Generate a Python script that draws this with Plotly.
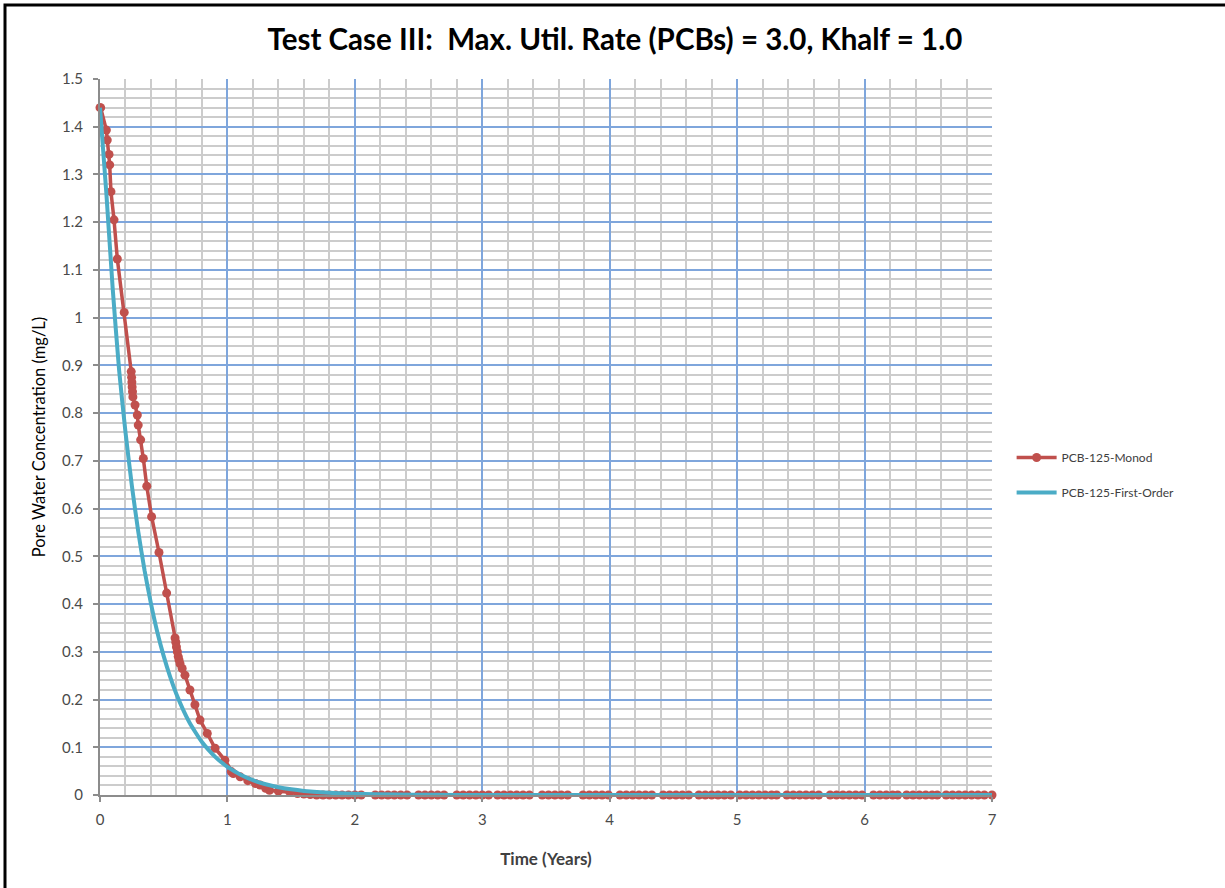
import plotly.graph_objects as go

# ---------------- data ----------------
monod_t = [0.0, 0.005, 0.05, 0.057, 0.071, 0.076, 0.086, 0.11, 0.136, 0.19,
           0.245, 0.248, 0.25, 0.252, 0.255, 0.258, 0.275, 0.293, 0.30, 0.319,
           0.34, 0.367, 0.405, 0.463, 0.523, 0.589, 0.595, 0.60, 0.607, 0.614,
           0.62, 0.628, 0.645, 0.667, 0.706, 0.745, 0.785, 0.842, 0.903, 0.98,
           1.03, 1.046, 1.1, 1.16, 1.22, 1.256, 1.3, 1.33, 1.4, 1.49, 1.55, 1.6, 1.65,
           1.70, 1.75, 1.80, 1.85, 1.90, 1.95, 2.00, 2.05,
           2.16, 2.21, 2.26, 2.31, 2.36, 2.41,
           2.50, 2.55, 2.60, 2.65, 2.70,
           2.80, 2.85, 2.90, 2.95, 3.00, 3.05,
           3.12, 3.17, 3.22, 3.27, 3.32, 3.37,
           3.47, 3.52, 3.57, 3.62, 3.67,
           3.79, 3.84, 3.89, 3.94, 3.99,
           4.08, 4.13, 4.18, 4.23, 4.28, 4.33,
           4.42, 4.47, 4.52, 4.57, 4.62,
           4.70, 4.75, 4.80, 4.85, 4.90, 4.95,
           5.02, 5.07, 5.12, 5.17, 5.22, 5.27, 5.31,
           5.39, 5.44, 5.49, 5.54, 5.59, 5.64,
           5.73, 5.78, 5.83, 5.88, 5.93, 5.98,
           6.07, 6.12, 6.17, 6.22, 6.26,
           6.33, 6.38, 6.43, 6.48, 6.53, 6.57,
           6.64, 6.69, 6.74, 6.79, 6.84, 6.89, 6.94, 7.00]
monod_head_c = [1.44, 1.44, 1.393, 1.372, 1.342, 1.32, 1.264, 1.205, 1.123, 1.011,
                0.887, 0.875, 0.865, 0.855, 0.845, 0.834, 0.817, 0.796, 0.775, 0.744,
                0.705, 0.647, 0.583, 0.508, 0.423, 0.329, 0.32, 0.31, 0.30, 0.29,
                0.283, 0.275, 0.265, 0.251, 0.22, 0.189, 0.157, 0.129, 0.098, 0.073,
                0.049, 0.045, 0.038, 0.03, 0.024, 0.021, 0.014, 0.01, 0.008, 0.006, 0.003, 0.002, 0.001]
monod_c = monod_head_c + [0.0] * (len(monod_t) - len(monod_head_c))

first_t = [0.0, 0.05, 0.1, 0.15, 0.2, 0.25, 0.3, 0.35, 0.4, 0.45,
           0.5, 0.55, 0.6, 0.65, 0.7, 0.75, 0.8, 0.85, 0.9, 0.95,
           1.0, 1.1, 1.2, 1.3, 1.4, 1.5, 1.6, 1.8, 2.0, 2.3,
           2.6, 3.0, 4.0, 5.0, 6.0, 7.0]
first_c = [1.44, 1.26, 1.06, 0.89, 0.76, 0.648, 0.552, 0.470, 0.401, 0.341,
           0.291, 0.248, 0.211, 0.180, 0.153, 0.131, 0.111, 0.095, 0.081, 0.069,
           0.059, 0.043, 0.031, 0.0225, 0.0163, 0.0119, 0.0086, 0.0045, 0.0024, 0.0009,
           0.0003, 0.0001, 0.0, 0.0, 0.0, 0.0]

x_ticks = [0, 1, 2, 3, 4, 5, 6, 7]
y_ticks = [0, 0.1, 0.2, 0.3, 0.4, 0.5, 0.6, 0.7, 0.8, 0.9, 1.0, 1.1, 1.2, 1.3, 1.4, 1.5]
y_labels = ["0", "0.1", "0.2", "0.3", "0.4", "0.5", "0.6", "0.7", "0.8", "0.9",
            "1", "1.1", "1.2", "1.3", "1.4", "1.5"]

RED = "#C0504D"
CYAN = "#4BACC6"
FONT = "Lato"

# minor grid positions (layout only)
x_minor = [i / 5 for i in range(0, 36) if i % 5 != 0]
y_minor = [i / 50 for i in range(0, 76) if i % 5 != 0]

fig = go.Figure()
fig.add_trace(go.Scatter(
    x=monod_t, y=monod_c, mode="lines+markers", name="PCB-125-Monod",
    line=dict(color=RED, width=3.5),
    marker=dict(color=RED, size=9, symbol="circle"),
    cliponaxis=False, legendgroup="a",
))
fig.add_trace(go.Scatter(
    x=first_t, y=first_c, mode="lines", name="PCB-125-First-Order",
    line=dict(color=CYAN, width=4, shape="spline", smoothing=0.5),
    cliponaxis=False, legendgroup="b",
))

grid_major = "#7FA6DC"
grid_minor = "#CCCCCC"
axis_col = "#8C8C8C"
tick_font = dict(family=FONT, size=15, color="#4A4A4A")

fig.update_layout(
    width=1225, height=888,
    margin=dict(l=100, r=233, t=79, b=93),
    paper_bgcolor="white", plot_bgcolor="white",
    font=dict(family=FONT, size=15, color="#404040"),
    title=dict(
        text="<b>Test Case III:\u00a0 Max. Util. Rate (PCBs) = 3.0, Khalf = 1.0</b>",
        x=0.502, xref="container", xanchor="center",
        y=1 - 40 / 888, yref="container", yanchor="middle",
        font=dict(family=FONT, size=29.5, color="#000000"),
    ),
    showlegend=True,
    legend=dict(
        x=1.022, xanchor="left", y=0.447, yanchor="middle",
        font=dict(family=FONT, size=12, color="#404040"),
        bgcolor="rgba(0,0,0,0)", tracegroupgap=16, itemwidth=40,
    ),
    xaxis=dict(
        range=[0, 7], tickvals=x_ticks, ticktext=[str(v) for v in x_ticks],
        showgrid=True, gridcolor=grid_major, gridwidth=1.5,
        minor=dict(tickvals=x_minor, showgrid=True, gridcolor=grid_minor, gridwidth=1.5, ticks=""),
        showline=True, linecolor=axis_col, linewidth=2,
        ticks="outside", ticklen=5, tickcolor=axis_col, tickwidth=1.5,
        zeroline=False, ticklabelstandoff=5,
        title=dict(text="<b>Time (Years)</b>", font=dict(family=FONT, size=17, color="#404040"), standoff=26),
        tickfont=tick_font,
    ),
    yaxis=dict(
        range=[0, 1.5], tickvals=y_ticks, ticktext=y_labels,
        showgrid=True, gridcolor=grid_major, gridwidth=1.5,
        minor=dict(tickvals=y_minor, showgrid=True, gridcolor=grid_minor, gridwidth=1.5, ticks=""),
        showline=True, linecolor=axis_col, linewidth=2,
        ticks="outside", ticklen=5, tickcolor=axis_col, tickwidth=1.5,
        zeroline=False, ticklabelstandoff=7,
        title=dict(text="Pore Water Concentration (mg/L)", font=dict(family=FONT, size=16.5, color="#000000"), standoff=12),
        tickfont=tick_font,
    ),
    shapes=[dict(
        type="rect", xref="paper", yref="paper",
        x0=(5 - 100) / 892, x1=1.5, y0=-0.5, y1=(795 - 5) / 716,
        line=dict(color="black", width=3), fillcolor="rgba(0,0,0,0)", layer="above",
    )],
)

fig.write_html("out.html")
